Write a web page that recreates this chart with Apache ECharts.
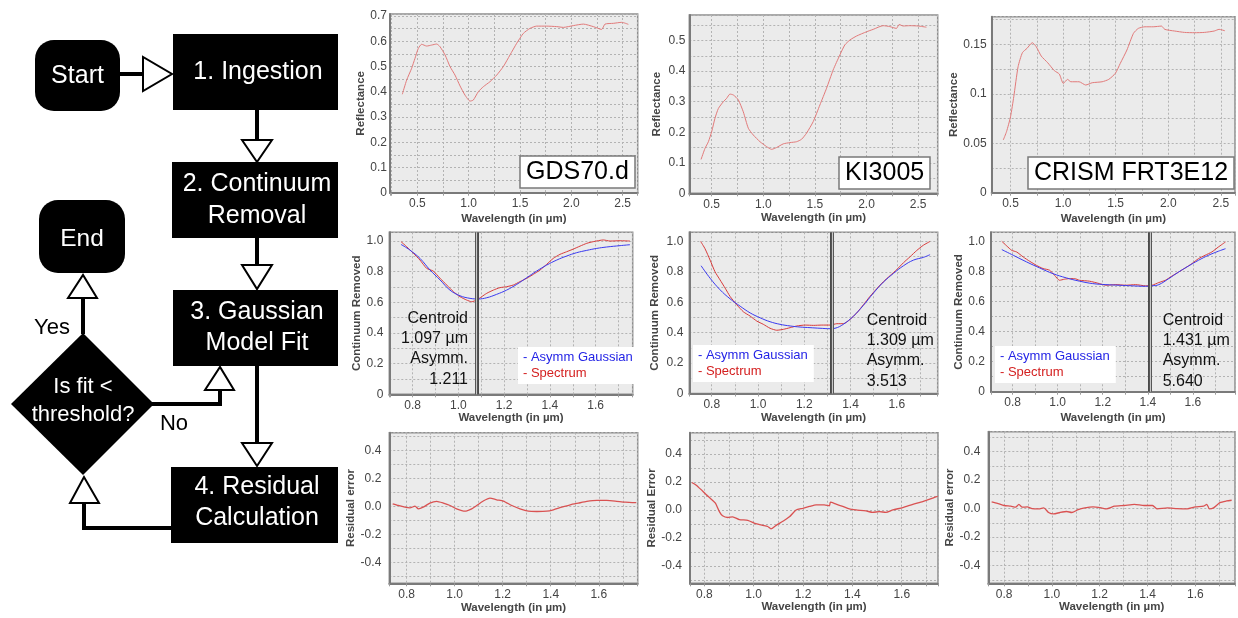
<!DOCTYPE html>
<html>
<head>
<meta charset="utf-8">
<script src="https://cdn.jsdelivr.net/npm/echarts@6.0.0/dist/echarts.min.js"></script>
<style>
  html, body { margin: 0; padding: 0; background: #fff; }
  #chart { width: 1238px; height: 618px; }
</style>
</head>
<body>
<div id="chart"></div>
<script>
// ---- data ----
// top row: reflectance spectra
const gdsWave = [0.354,0.396,0.445,0.477,0.51,0.542,0.591,0.64,0.688,0.72,0.77,0.818,0.867,0.916,0.964,1.013,1.045,1.094,1.143,1.208,1.273,1.338,1.403,1.468,1.532,1.597,1.662,1.76,1.857,1.922,2.019,2.117,2.214,2.295,2.328,2.409,2.49,2.555];
const gdsRefl = [0.39,0.446,0.493,0.532,0.572,0.588,0.581,0.585,0.589,0.579,0.546,0.5,0.466,0.423,0.387,0.363,0.367,0.4,0.42,0.44,0.466,0.5,0.546,0.592,0.631,0.651,0.66,0.66,0.658,0.655,0.662,0.668,0.658,0.647,0.668,0.671,0.675,0.667];
const kiWave = [0.397,0.435,0.468,0.5,0.532,0.565,0.613,0.645,0.677,0.71,0.758,0.806,0.855,0.903,0.968,1.032,1.081,1.129,1.194,1.258,1.323,1.371,1.419,1.484,1.548,1.613,1.677,1.742,1.79,1.839,1.903,2.0,2.065,2.161,2.226,2.29,2.316,2.355,2.419,2.5,2.581];
const kiRefl = [0.111,0.147,0.169,0.202,0.246,0.278,0.3,0.311,0.325,0.322,0.306,0.267,0.213,0.191,0.169,0.153,0.144,0.15,0.162,0.166,0.169,0.177,0.197,0.235,0.289,0.344,0.404,0.453,0.486,0.502,0.515,0.529,0.537,0.549,0.546,0.54,0.553,0.548,0.549,0.548,0.544];
const crWave = [0.431,0.462,0.5,0.531,0.572,0.613,0.657,0.707,0.745,0.792,0.854,0.917,0.964,1.002,1.042,1.074,1.152,1.215,1.277,1.371,1.434,1.497,1.544,1.607,1.669,1.716,1.779,1.857,1.936,1.967,2.061,2.155,2.249,2.343,2.437,2.484,2.538];
const crRefl = [0.0533,0.0617,0.0768,0.0971,0.1274,0.1416,0.146,0.1517,0.1476,0.1382,0.1314,0.1234,0.12,0.1105,0.1146,0.1122,0.1122,0.1089,0.1112,0.1122,0.1146,0.1207,0.1308,0.1443,0.1611,0.1662,0.1678,0.1678,0.1685,0.1652,0.1635,0.1621,0.1618,0.1621,0.1635,0.1652,0.1638];

// middle row: continuum removed spectrum + asymmetric gaussian fit
const gdsCrWave = [0.749,0.774,0.803,0.832,0.861,0.89,0.92,0.949,0.978,1.007,1.036,1.058,1.08,1.102,1.124,1.153,1.182,1.211,1.24,1.269,1.299,1.328,1.357,1.386,1.415,1.444,1.473,1.503,1.532,1.561,1.59,1.634,1.663,1.707,1.75];
const gdsCr = [0.996,0.963,0.92,0.876,0.822,0.804,0.757,0.713,0.67,0.637,0.615,0.604,0.615,0.637,0.659,0.68,0.696,0.702,0.713,0.735,0.757,0.783,0.811,0.848,0.887,0.913,0.93,0.948,0.967,0.985,0.996,1.007,1.0,1.002,1.0];
const gdsFitWave = [0.749,0.788,0.832,0.876,0.92,0.963,1.007,1.051,1.087,1.124,1.167,1.211,1.255,1.299,1.342,1.386,1.43,1.473,1.517,1.561,1.605,1.648,1.707,1.75];
const gdsFit = [0.978,0.941,0.887,0.811,0.746,0.68,0.643,0.626,0.622,0.63,0.652,0.68,0.717,0.761,0.804,0.843,0.876,0.902,0.924,0.939,0.952,0.961,0.97,0.976];

const kiCrWave = [0.752,0.771,0.793,0.814,0.836,0.858,0.879,0.908,0.937,0.966,0.995,1.023,1.052,1.081,1.11,1.139,1.168,1.204,1.24,1.276,1.312,1.341,1.369,1.398,1.427,1.456,1.485,1.514,1.542,1.571,1.6,1.629,1.658,1.686,1.715,1.744];
const kiCr = [1.0,0.952,0.877,0.801,0.747,0.693,0.639,0.584,0.537,0.509,0.476,0.455,0.429,0.416,0.422,0.433,0.444,0.45,0.448,0.45,0.45,0.459,0.459,0.487,0.53,0.584,0.64,0.69,0.735,0.775,0.815,0.86,0.9,0.94,0.975,1.0];
const kiFitWave = [0.754,0.793,0.836,0.879,0.923,0.966,1.009,1.052,1.095,1.139,1.182,1.225,1.268,1.312,1.333,1.369,1.413,1.456,1.499,1.542,1.586,1.629,1.672,1.715,1.744];
const kiFit = [0.84,0.758,0.682,0.623,0.574,0.53,0.498,0.472,0.455,0.444,0.437,0.433,0.429,0.426,0.429,0.455,0.509,0.58,0.66,0.732,0.79,0.84,0.877,0.895,0.913];

const crCrWave = [0.752,0.774,0.796,0.818,0.847,0.876,0.906,0.935,0.964,0.986,1.008,1.03,1.052,1.075,1.097,1.141,1.185,1.214,1.258,1.302,1.346,1.39,1.419,1.449,1.478,1.508,1.537,1.566,1.596,1.625,1.654,1.684,1.713,1.745];
const crCr = [1.0,0.969,0.94,0.929,0.896,0.867,0.84,0.819,0.808,0.774,0.741,0.748,0.752,0.752,0.741,0.735,0.719,0.708,0.712,0.708,0.712,0.704,0.708,0.726,0.741,0.77,0.796,0.823,0.852,0.885,0.907,0.929,0.962,0.996];
const crFitWave = [0.752,0.803,0.862,0.92,0.979,1.038,1.097,1.155,1.214,1.273,1.331,1.39,1.419,1.449,1.493,1.537,1.581,1.625,1.669,1.713,1.745];
const crFit = [0.945,0.907,0.863,0.823,0.785,0.757,0.735,0.719,0.712,0.708,0.704,0.701,0.704,0.712,0.752,0.796,0.836,0.874,0.907,0.934,0.951];

// centroid marker positions and annotation values
const centroidMarks = [1.08, 1.325, 1.41];
const centroidText = ['1.097 µm', '1.309 µm', '1.431 µm'];
const asymmText = ['1.211', '3.513', '5.640'];

// bottom row: residuals
const gdsResWave = [0.742,0.765,0.793,0.814,0.835,0.849,0.869,0.897,0.925,0.953,0.981,1.008,1.043,1.071,1.092,1.119,1.147,1.175,1.203,1.238,1.272,1.307,1.342,1.383,1.411,1.446,1.481,1.515,1.55,1.592,1.633,1.668,1.71,1.756];
const gdsRes = [0.019,0.007,-0.005,-0.01,0.002,-0.017,-0.005,0.024,0.036,0.024,0.007,-0.017,-0.034,-0.017,0.007,0.039,0.06,0.048,0.039,0.007,-0.017,-0.034,-0.036,-0.034,-0.024,-0.005,0.012,0.024,0.036,0.043,0.043,0.039,0.031,0.027];
const kiResWave = [0.749,0.766,0.786,0.807,0.827,0.845,0.861,0.874,0.895,0.915,0.942,0.976,1.009,1.036,1.057,1.07,1.091,1.118,1.145,1.172,1.199,1.226,1.253,1.286,1.307,1.311,1.334,1.361,1.388,1.415,1.455,1.482,1.509,1.536,1.564,1.604,1.645,1.685,1.726,1.746];
const kiRes = [0.196,0.179,0.147,0.11,0.079,0.049,-0.012,-0.042,-0.054,-0.049,-0.069,-0.074,-0.098,-0.11,-0.118,-0.135,-0.11,-0.081,-0.049,0.0,0.012,0.025,0.037,0.037,0.029,0.056,0.042,0.025,0.007,0.0,-0.007,-0.017,-0.012,-0.017,0.0,0.017,0.04,0.06,0.085,0.098];
const crResWave = [0.748,0.772,0.8,0.828,0.848,0.862,0.876,0.897,0.917,0.945,0.966,0.986,1.007,1.034,1.062,1.083,1.11,1.138,1.172,1.207,1.228,1.262,1.303,1.345,1.386,1.421,1.441,1.483,1.524,1.566,1.6,1.634,1.648,1.659,1.676,1.703,1.731,1.752];
const crRes = [0.047,0.037,0.022,0.017,0.01,0.03,0.01,0.012,0.0,-0.002,0.005,-0.027,-0.037,-0.027,-0.02,-0.027,-0.007,0.005,0.012,0.005,-0.002,0.017,0.022,0.03,0.022,0.022,-0.002,0.005,0.0,-0.002,0.012,0.017,0.03,-0.002,0.005,0.042,0.054,0.059];

// sample labels
const sampleNames = ['GDS70.d', 'KI3005', 'CRISM FRT3E12'];

// ---- layout (pixels) and axis settings ----
const FONT = '"Liberation Sans", Arial, Helvetica, sans-serif';
const panelBox = [
  {left: 390, top: 14, width: 247.7, height: 178.7},
  {left: 689.3, top: 15, width: 248.4, height: 178.3},
  {left: 991.7, top: 16.7, width: 246, height: 176},
  {left: 389.3, top: 232.3, width: 243.4, height: 162},
  {left: 689.3, top: 232.3, width: 248.4, height: 161.2},
  {left: 991, top: 232.3, width: 245.7, height: 159.4},
  {left: 389.3, top: 432.7, width: 248.4, height: 150.6},
  {left: 690, top: 432.7, width: 248, height: 150.6},
  {left: 988.3, top: 431.7, width: 249.4, height: 151.6}
];
const xRange = [[0.234,2.646],[0.283,2.69],[0.321,2.635],[0.698,1.762],[0.703,1.777],[0.704,1.787],[0.728,1.762],[0.742,1.747],[0.734,1.766]];
const yRange = [[0,0.708],[0,0.584],[0,0.178],[0,1.057],[0,1.06],[0,1.06],[-0.551,0.529],[-0.524,0.552],[-0.524,0.54]];
const xStep = [0.25,0.25,0.25,0.1,0.1,0.1,0.1,0.1,0.1];
const xLabStep = [0.5,0.5,0.5,0.2,0.2,0.2,0.2,0.2,0.2];
const yStep = [0.05,0.05,0.025,0.1,0.1,0.1,0.1,0.1,0.1];
const yLabStep = [0.1,0.1,0.05,0.2,0.2,0.2,0.2,0.2,0.2];
const yZero = ['0','0','0','0','0','0','0.0','0.0','0.0'];
const yDigits = [1,1,null,1,1,1,1,1,1];
const yNames = ['Reflectance','Reflectance','Reflectance','Continuum Removed','Continuum Removed','Continuum Removed','Residual error','Residual Error','Residual error'];
const yNameGap = [23.5,26,28,24,28,23,26,27,25.5];
const xNameGap = [20,19,20,18,18,20,19,18,18];
const yLabMargin = [3,4,5,6,6,6,8,8,8];

function tickLabel(step, zero, digits) {
  return function (v) {
    const k = v / step;
    if (Math.abs(k - Math.round(k)) > 1e-6) return '';
    if (Math.abs(v) < 1e-9) return zero;
    return digits == null ? String(+v.toFixed(3)) : v.toFixed(digits);
  };
}
function pairs(xs, ys) { return xs.map((x, i) => [x, ys[i]]); }

const grids = [], xAxes = [], yAxes = [];
for (let i = 0; i < 9; i++) {
  grids.push(Object.assign({
    show: true, backgroundColor: '#ebebeb', borderColor: '#8e8e8e', borderWidth: 1.5
  }, panelBox[i]));
  xAxes.push({
    type: 'value', gridIndex: i, min: xRange[i][0], max: xRange[i][1],
    minInterval: xStep[i], maxInterval: xStep[i], splitNumber: 12,
    name: 'Wavelength (in µm)', nameLocation: 'middle', nameGap: xNameGap[i],
    nameTextStyle: {fontFamily: FONT, fontSize: 11.5, fontWeight: 'bold', color: '#454545'},
    axisLine: {show: true, onZero: false, lineStyle: {color: '#7a7a7a', width: 2}},
    axisTick: {show: true, length: 3, lineStyle: {color: '#9a9a9a'}},
    axisLabel: {fontFamily: FONT, fontSize: 12, color: '#444', margin: 5, formatter: tickLabel(xLabStep[i], '0', 1)},
    splitLine: {show: true, lineStyle: {color: '#b3b3b3', type: [2, 2], width: 1}}
  });
  yAxes.push({
    type: 'value', gridIndex: i, min: yRange[i][0], max: yRange[i][1],
    minInterval: yStep[i], maxInterval: yStep[i], splitNumber: 12,
    name: yNames[i], nameLocation: 'middle', nameGap: yNameGap[i],
    nameTextStyle: {fontFamily: FONT, fontSize: 11.5, fontWeight: 'bold', color: '#454545'},
    axisLine: {show: true, onZero: false, lineStyle: {color: '#7a7a7a', width: 2}},
    axisTick: {show: false},
    axisLabel: {fontFamily: FONT, fontSize: 12, color: '#444', margin: yLabMargin[i],
      formatter: tickLabel(yLabStep[i], yZero[i], yDigits[i])},
    splitLine: {show: true, lineStyle: {color: '#b3b3b3', type: [2, 2], width: 1}}
  });
}

function line(name, idx, data, color, width, smooth) {
  return {
    type: 'line', name: name, xAxisIndex: idx, yAxisIndex: idx, data: data,
    showSymbol: false, smooth: smooth, silent: true,
    lineStyle: {color: color, width: width}, itemStyle: {color: color}
  };
}
function marker(x) {
  return {
    silent: true, symbol: 'none', label: {show: false},
    data: [
      {xAxis: x, lineStyle: {color: '#4a4a4a', width: 4, type: 'solid'}},
      {xAxis: x, lineStyle: {color: '#c8c8c8', width: 1.2, type: 'solid'}}
    ]
  };
}

const RED_TOP = '#e27a7a', RED = '#d83b3b', BLUE = '#3a3af0', RED_RES = '#d95252';
const spectra = [[gdsCrWave, gdsCr, gdsFitWave, gdsFit], [kiCrWave, kiCr, kiFitWave, kiFit], [crCrWave, crCr, crFitWave, crFit]];
const series = [
  line('Reflectance', 0, pairs(gdsWave, gdsRefl), RED_TOP, 1, 0.2),
  line('Reflectance', 1, pairs(kiWave, kiRefl), RED_TOP, 1, 0.2),
  line('Reflectance', 2, pairs(crWave, crRefl), RED_TOP, 1, 0.2)
];
spectra.forEach((s, k) => {
  series.push(line('Spectrum', 3 + k, pairs(s[0], s[1]), RED, 1, 0.2));
  const fit = line('Asymm Gaussian', 3 + k, pairs(s[2], s[3]), BLUE, 1, 0.4);
  fit.markLine = marker(centroidMarks[k]);
  series.push(fit);
});
series.push(line('Residual', 6, pairs(gdsResWave, gdsRes), RED_RES, 1.3, 0.2));
series.push(line('Residual', 7, pairs(kiResWave, kiRes), RED_RES, 1.3, 0.2));
series.push(line('Residual', 8, pairs(crResWave, crRes), RED_RES, 1.3, 0.2));

// sample name boxes
const namePos = [{left: 520, top: 156}, {left: 839, top: 157}, {left: 1028, top: 157}];
const titles = sampleNames.map((t, k) => Object.assign({
  text: t, padding: [4, 6, 3, 6], backgroundColor: '#fff', borderColor: '#7a7a7a', borderWidth: 1.5,
  textStyle: {fontFamily: FONT, fontSize: 25, fontWeight: 'normal', color: '#000'}
}, namePos[k]));

// legends of the middle row
const legendPos = [{left: 518, top: 347}, {left: 693, top: 345}, {left: 995, top: 346}];
const legends = legendPos.map(p => Object.assign({
  orient: 'vertical', icon: 'none', itemWidth: 0, itemHeight: 12, itemGap: 3,
  selectedMode: false, backgroundColor: '#fff', padding: [4, 6, 4, 0],
  formatter: '- {name}',
  textStyle: {fontFamily: FONT, fontSize: 13},
  data: [
    {name: 'Asymm Gaussian', textStyle: {color: '#2424e6'}},
    {name: 'Spectrum', textStyle: {color: '#d42020'}}
  ]
}, p));

// ---- flowchart drawn with graphic elements ----
const graphic = [];
function txt(x, y, text, size, color, align, vAlign, lh) {
  return {
    type: 'text', x: x, y: y, z: 20,
    style: {
      text: text, fill: color, font: size + 'px ' + FONT, lineHeight: lh || size * 1.25,
      align: align || 'center', verticalAlign: vAlign || 'middle',
      textAlign: align || 'center', textVerticalAlign: vAlign || 'middle'
    }
  };
}
const connectors = [
  [[120, 74], [143, 74]],
  [[257, 110], [257, 141]],
  [[257, 238], [257, 266]],
  [[257, 366], [257, 444]],
  [[171, 528], [84, 528], [84, 503]],
  [[152, 404], [220, 404], [220, 390]],
  [[83, 334], [83, 298]]
];
connectors.forEach(p => graphic.push({
  type: 'polyline', z: 10, shape: {points: p}, style: {stroke: '#000', lineWidth: 4, fill: null}
}));
const roundBoxes = [{x: 35, y: 40, w: 85, h: 71}, {x: 39, y: 200, w: 86, h: 73}];
roundBoxes.forEach(b => graphic.push({
  type: 'rect', z: 10, shape: {x: b.x, y: b.y, width: b.w, height: b.h, r: 19}, style: {fill: '#000'}
}));
const stepBoxes = [{x: 173, y: 34, w: 165, h: 76}, {x: 172, y: 162, w: 166, h: 76}, {x: 173, y: 290, w: 165, h: 76}, {x: 171, y: 467, w: 167, h: 76}];
stepBoxes.forEach(b => graphic.push({
  type: 'rect', z: 10, shape: {x: b.x, y: b.y, width: b.w, height: b.h}, style: {fill: '#000'}
}));
graphic.push({
  type: 'polygon', z: 10, shape: {points: [[83, 333], [154, 404], [83, 475], [11, 404]]}, style: {fill: '#000'}
});
const heads = [
  [[143, 57], [143, 91], [172, 74]],
  [[242, 140], [272, 140], [257, 162]],
  [[242, 265], [272, 265], [257, 289]],
  [[242, 443], [272, 443], [257, 466]],
  [[70, 503], [99, 503], [84, 477]],
  [[205, 390], [234, 390], [220, 367]],
  [[68, 298], [97, 298], [83, 275]]
];
heads.forEach(p => graphic.push({
  type: 'polygon', z: 12, shape: {points: p}, style: {fill: '#fff', stroke: '#000', lineWidth: 2}
}));
graphic.push(txt(77.5, 76, 'Start', 25, '#fff'));
graphic.push(txt(82, 239, 'End', 24.5, '#fff'));
graphic.push(txt(258, 72, '1. Ingestion', 25, '#fff'));
graphic.push(txt(257, 200, '2. Continuum\nRemoval', 25, '#fff', 'center', 'middle', 32));
graphic.push(txt(257, 328, '3. Gaussian\nModel Fit', 25, '#fff', 'center', 'middle', 31));
graphic.push(txt(257, 503, '4. Residual\nCalculation', 25, '#fff', 'center', 'middle', 31));
graphic.push(txt(83, 401, 'Is fit <\nthreshold?', 22, '#fff', 'center', 'middle', 28));
graphic.push(txt(52, 328, 'Yes', 22, '#000'));
graphic.push(txt(174, 424, 'No', 22, '#000'));

// centroid annotations of the middle row
const notePos = [{x: 468, y: 308, a: 'right'}, {x: 866.7, y: 310, a: 'left'}, {x: 1162.7, y: 310, a: 'left'}];
notePos.forEach((p, k) => graphic.push(
  txt(p.x, p.y, 'Centroid\n' + centroidText[k] + '\nAsymm.\n' + asymmText[k], 16, '#111', p.a, 'top', 20.4)
));

const chart = echarts.init(document.getElementById('chart'), null, {renderer: 'canvas'});
chart.setOption({
  animation: false,
  backgroundColor: '#fff',
  title: titles,
  legend: legends,
  grid: grids,
  xAxis: xAxes,
  yAxis: yAxes,
  series: series,
  graphic: graphic
});
</script>
</body>
</html>
